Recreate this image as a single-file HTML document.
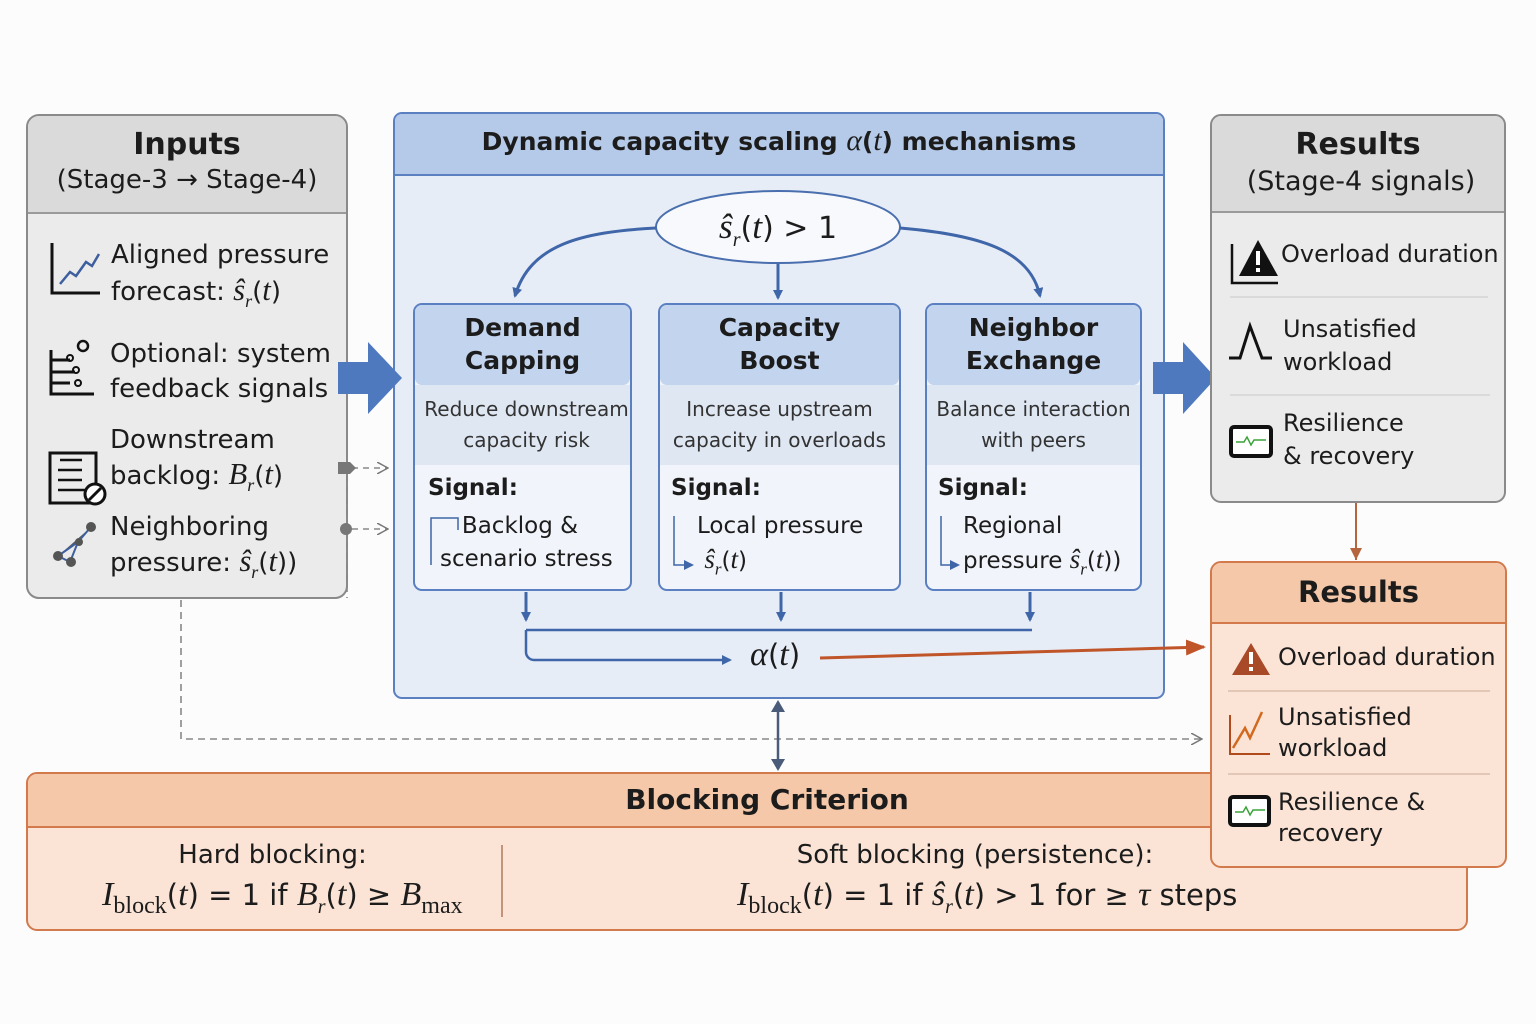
<!DOCTYPE html>
<html><head><meta charset="utf-8"><style>
body{margin:0;width:1536px;height:1024px;background:#fcfcfc;position:relative;overflow:hidden;font-family:"DejaVu Sans","Liberation Sans",sans-serif;color:#1c1c1c}
.a{position:absolute}
.c{text-align:center}
i{font-family:"Liberation Serif",serif;font-style:italic;font-size:1.18em}
</style></head><body>
<svg class="a" style="left:0;top:0" width="1536" height="1024">
<defs>
<marker id="ab" markerWidth="10" markerHeight="10" refX="8" refY="5" orient="auto" markerUnits="userSpaceOnUse"><path d="M0,0 L10,5 L0,10 z" fill="#3f66a8"/></marker>
<marker id="ao" markerWidth="20" markerHeight="20" refX="18" refY="10" orient="auto" markerUnits="userSpaceOnUse"><path d="M0,2 L20,10 L0,18 z" fill="#c0552a"/></marker>
<marker id="ag" markerWidth="12" markerHeight="12" refX="11" refY="6" orient="auto" markerUnits="userSpaceOnUse"><path d="M0,0 L11,6 L0,12" fill="none" stroke="#777" stroke-width="1.5"/></marker>
<marker id="ar" markerWidth="14" markerHeight="12" refX="12" refY="6" orient="auto" markerUnits="userSpaceOnUse"><path d="M0,0 L12,6 L0,12 z" fill="#b5653d"/></marker>
<marker id="ak" markerWidth="12" markerHeight="14" refX="10" refY="7" orient="auto-start-reverse" markerUnits="userSpaceOnUse"><path d="M0,0 L12,7 L0,14 z" fill="#4a5c7a"/></marker>
</defs>
<rect x="27" y="115" width="320" height="483" rx="12" fill="#ebebec" stroke="#8a8a8a" stroke-width="2"/>
<path d="M28,213 V127 a11,11 0 0 1 11,-11 H335 a11,11 0 0 1 11,11 V213z" fill="#dadadb"/>
<line x1="28" y1="213" x2="346" y2="213" stroke="#9a9a9a" stroke-width="2"/>
<rect x="394" y="113" width="770" height="585" rx="8" fill="#e7edf7" stroke="#5b80c2" stroke-width="2"/>
<path d="M395,175 V121 a7,7 0 0 1 7,-7 H1156 a7,7 0 0 1 7,7 V175z" fill="#b5c9e8"/>
<line x1="395" y1="175" x2="1163" y2="175" stroke="#5b80c2" stroke-width="2"/>
<g stroke="#5b80c2" stroke-width="2">
<rect x="414" y="304" width="217" height="286" rx="8" fill="#f1f4fa"/>
<rect x="659" y="304" width="241" height="286" rx="8" fill="#f1f4fa"/>
<rect x="926" y="304" width="215" height="286" rx="8" fill="#f1f4fa"/>
</g>
<g fill="#c3d4ee"><rect x="415" y="305" width="215" height="80" rx="7"/><rect x="660" y="305" width="239" height="80" rx="7"/><rect x="927" y="305" width="213" height="80" rx="7"/></g>
<g fill="#dfe7f3"><rect x="415" y="385" width="215" height="80"/><rect x="660" y="385" width="239" height="80"/><rect x="927" y="385" width="213" height="80"/></g>
<ellipse cx="778" cy="227" rx="122" ry="36" fill="#f8f9fc" stroke="#4a6fae" stroke-width="2"/>
<g stroke="#3f66a8" stroke-width="3" fill="none" marker-end="url(#ab)">
<path d="M656,228 C580,232 530,245 515,296"/>
<path d="M778,264 V298"/>
<path d="M900,228 C980,235 1030,250 1040,296"/>
<path d="M526,592 V620"/><path d="M781,592 V620"/><path d="M1030,592 V620"/>
</g>
<g stroke="#3f66a8" stroke-width="2.5" fill="none">
<path d="M526,630 H1032"/>
<path d="M526,630 V652 a8,8 0 0 0 8,8 H730" marker-end="url(#ab)"/>
</g>
<path d="M338,362 H368 V342 L402,378 L368,414 V394 H338z" fill="#4f79bf"/>
<path d="M1153,362 H1183 V342 L1216,378 L1183,414 V394 H1153z" fill="#4f79bf"/>
<rect x="1211" y="115" width="294" height="387" rx="10" fill="#ebebec" stroke="#8a8a8a" stroke-width="2"/>
<path d="M1212,212 V126 a10,10 0 0 1 10,-10 H1494 a10,10 0 0 1 10,10 V212z" fill="#dadadb"/>
<line x1="1212" y1="212" x2="1504" y2="212" stroke="#9a9a9a" stroke-width="2"/>
<line x1="1230" y1="297" x2="1488" y2="297" stroke="#c8c8c8"/>
<line x1="1230" y1="395" x2="1490" y2="395" stroke="#c8c8c8"/>
<rect x="27" y="773" width="1440" height="157" rx="10" fill="#fbe4d6" stroke="#d27a4c" stroke-width="2"/>
<path d="M28,827 V783 a9,9 0 0 1 9,-9 H1457 a9,9 0 0 1 9,9 V827z" fill="#f5c8a9"/>
<line x1="28" y1="827" x2="1466" y2="827" stroke="#d27a4c" stroke-width="2"/>
<line x1="502" y1="845" x2="502" y2="917" stroke="#b07a5a" stroke-width="1.5"/>
<rect x="1211" y="562" width="295" height="305" rx="10" fill="#fbe4d6" stroke="#d27a4c" stroke-width="2"/>
<path d="M1212,623 V573 a10,10 0 0 1 10,-10 H1495 a10,10 0 0 1 10,10 V623z" fill="#f5c8a9"/>
<line x1="1212" y1="623" x2="1505" y2="623" stroke="#d27a4c" stroke-width="2"/>
<line x1="1228" y1="691" x2="1490" y2="691" stroke="#c9a795"/>
<line x1="1228" y1="774" x2="1490" y2="774" stroke="#c9a795"/>
<path d="M820,658 L1204,647" stroke="#c0552a" stroke-width="3" marker-end="url(#ao)"/>
<path d="M1356,503 V560" stroke="#b5653d" stroke-width="2" marker-end="url(#ar)"/>
<path d="M181,600 V739 H1202" stroke="#888" stroke-width="1.6" stroke-dasharray="7,5" fill="none" marker-end="url(#ag)"/>
<path d="M347,465 V598" stroke="#888" stroke-width="1.6" stroke-dasharray="6,5"/>
<path d="M352,468 H388" stroke="#888" stroke-width="1.6" stroke-dasharray="6,5" marker-end="url(#ag)"/>
<path d="M352,529 H388" stroke="#888" stroke-width="1.6" stroke-dasharray="6,5" marker-end="url(#ag)"/>
<circle cx="346" cy="529" r="6" fill="#777"/><path d="M338,462 h12 l6,6 l-6,6 h-12z" fill="#777"/>
<path d="M778,702 V769" stroke="#4a5c7a" stroke-width="2.5" marker-end="url(#ak)" marker-start="url(#ak)"/>
<g fill="none" stroke="#111" stroke-width="3">
<path d="M52,243 V293 H100"/>
<path d="M60,284 L70,272 L76,276 L86,262 L92,266 L99,254" stroke="#3d5f9e" stroke-width="2.5"/>
<path d="M51,350 V394 H94 M51,360 H70 M51,372 H75 M51,383 H70"/>
<circle cx="83" cy="346" r="5" stroke-width="2.5"/><circle cx="70" cy="358" r="3" stroke-width="2"/><circle cx="76" cy="370" r="3" stroke-width="2"/><circle cx="78" cy="383" r="3" stroke-width="2"/>
<rect x="50" y="453" width="46" height="50"/><path d="M60,460 h22 M58,470 h24 M58,480 h24 M58,490 h28" stroke-width="2.5"/>
<circle cx="95" cy="494" r="10" fill="#fff"/><path d="M89,500 L101,488"/>
</g>
<g fill="#555" stroke="#3d5f9e" stroke-width="2"><path d="M58,556 L78,542 L90,528 M70,562 L58,556 M78,542 L70,562"/></g>
<g fill="#555"><circle cx="91" cy="527" r="5"/><circle cx="79" cy="542" r="4"/><circle cx="58" cy="556" r="5"/><circle cx="71" cy="562" r="5"/></g>
<path d="M1232,244 V283 H1278" fill="none" stroke="#111" stroke-width="2.5"/>
<path d="M1258,240 L1278,276 H1239z" fill="#111"/><rect x="1256" y="251" width="4" height="14" fill="#fff"/><rect x="1256" y="268" width="4" height="4" fill="#fff"/>
<path d="M1229,358 H1240 L1250,326 L1262,358 H1272" fill="none" stroke="#111" stroke-width="3"/>
<rect x="1231" y="427" width="40" height="29" rx="3" fill="#fff" stroke="#111" stroke-width="4"/>
<path d="M1236,442 h8 l3,-5 l4,8 l3,-5 h12" fill="none" stroke="#3aa23a" stroke-width="1.5"/>
<path d="M1251,643 L1270,675 H1232z" fill="#a84a28"/><rect x="1249" y="652" width="4" height="12" fill="#fff"/><rect x="1249" y="667" width="4" height="4" fill="#fff"/>
<path d="M1230,715 V754 H1270" fill="none" stroke="#b24a1c" stroke-width="2"/>
<path d="M1233,748 L1245,728 L1250,738 L1262,712" fill="none" stroke="#d2691e" stroke-width="2.5"/>
<rect x="1230" y="797" width="39" height="28" rx="3" fill="#fff" stroke="#111" stroke-width="4"/>
<path d="M1235,812 h8 l3,-5 l4,8 l3,-5 h12" fill="none" stroke="#3aa23a" stroke-width="1.5"/>
<g fill="none" stroke="#3f66a8" stroke-width="1.5">
<path d="M431,565 V518 H458 V530"/>
<path d="M674,516 V565 H692" marker-end="url(#ab)"/>
<path d="M941,516 V565 H958" marker-end="url(#ab)"/>
</g>
</svg>

<div class="a c" style="left:27px;top:127px;width:320px;font-size:30px;font-weight:bold">Inputs</div>
<div class="a c" style="left:27px;top:165px;width:320px;font-size:26px">(Stage-3 → Stage-4)</div>
<div class="a" style="left:111px;top:238px;font-size:26px;line-height:35px">Aligned pressure<br>forecast: <i>ŝ<sub style="font-size:18px">r</sub></i>(<i>t</i>)</div>
<div class="a" style="left:110px;top:337px;font-size:26px;line-height:35px">Optional: system<br>feedback signals</div>
<div class="a" style="left:110px;top:423px;font-size:26px;line-height:34px">Downstream<br>backlog: <i>B<sub style="font-size:18px">r</sub></i>(<i>t</i>)</div>
<div class="a" style="left:110px;top:510px;font-size:26px;line-height:34px">Neighboring<br>pressure: <i>ŝ<sub style="font-size:18px">r</sub></i>(<i>t</i>))</div>

<div class="a c" style="left:394px;top:125px;width:770px;font-size:25px;font-weight:bold">Dynamic capacity scaling <i style="font-weight:normal">α</i>(<i style="font-weight:normal">t</i>) mechanisms</div>
<div class="a c" style="left:656px;top:205px;width:244px;font-size:30px"><i>ŝ<sub style="font-size:20px">r</sub></i>(<i>t</i>) &gt; 1</div>

<div class="a c" style="left:414px;top:311px;width:217px;font-size:25px;font-weight:bold;line-height:33px">Demand<br>Capping</div>
<div class="a c" style="left:659px;top:311px;width:241px;font-size:25px;font-weight:bold;line-height:33px">Capacity<br>Boost</div>
<div class="a c" style="left:926px;top:311px;width:215px;font-size:25px;font-weight:bold;line-height:33px">Neighbor<br>Exchange</div>
<div class="a c" style="left:414px;top:394px;width:225px;font-size:20px;line-height:31px;color:#333">Reduce downstream<br>capacity risk</div>
<div class="a c" style="left:659px;top:394px;width:241px;font-size:20px;line-height:31px;color:#333">Increase upstream<br>capacity in overloads</div>
<div class="a c" style="left:926px;top:394px;width:215px;font-size:20px;line-height:31px;color:#333">Balance interaction<br>with peers</div>
<div class="a" style="left:428px;top:475px;font-size:23px;font-weight:bold">Signal:</div>
<div class="a" style="left:671px;top:475px;font-size:23px;font-weight:bold">Signal:</div>
<div class="a" style="left:938px;top:475px;font-size:23px;font-weight:bold">Signal:</div>
<div class="a" style="left:440px;top:510px;font-size:23px;line-height:33px">&nbsp;&nbsp;&nbsp;Backlog &amp;<br>scenario stress</div>
<div class="a" style="left:697px;top:510px;font-size:23px;line-height:33px">Local pressure<br>&nbsp;<i>ŝ<sub style="font-size:17px">r</sub></i>(<i>t</i>)</div>
<div class="a" style="left:963px;top:510px;font-size:23px;line-height:33px">Regional<br>pressure <i>ŝ<sub style="font-size:17px">r</sub></i>(<i>t</i>))</div>
<div class="a" style="left:750px;top:636px;font-size:29px"><i>α</i>(<i>t</i>)</div>

<div class="a c" style="left:1211px;top:127px;width:294px;font-size:30px;font-weight:bold">Results</div>
<div class="a c" style="left:1211px;top:166px;width:300px;font-size:27px">(Stage-4 signals)</div>
<div class="a" style="left:1281px;top:240px;font-size:24px">Overload duration</div>
<div class="a" style="left:1283px;top:313px;font-size:24px;line-height:33px">Unsatisfied<br>workload</div>
<div class="a" style="left:1283px;top:407px;font-size:24px;line-height:33px">Resilience<br>&amp; recovery</div>

<div class="a c" style="left:1211px;top:575px;width:295px;font-size:29px;font-weight:bold">Results</div>
<div class="a" style="left:1278px;top:643px;font-size:24px">Overload duration</div>
<div class="a" style="left:1278px;top:702px;font-size:24px;line-height:31px">Unsatisfied<br>workload</div>
<div class="a" style="left:1278px;top:787px;font-size:24px;line-height:31px">Resilience &amp;<br>recovery</div>

<div class="a c" style="left:27px;top:783px;width:1480px;font-size:28px;font-weight:bold">Blocking Criterion</div>
<div class="a c" style="left:100px;top:840px;width:345px;font-size:26px">Hard blocking:</div>
<div class="a" style="left:102px;top:876px;font-size:29px;white-space:nowrap"><i>I</i><span style="font-family:'Liberation Serif',serif;font-size:24px;position:relative;top:8px">block</span>(<i>t</i>) = 1 if <i>B<sub style="font-size:20px">r</sub></i>(<i>t</i>) ≥ <i>B</i><span style="font-family:'Liberation Serif',serif;font-size:24px;position:relative;top:8px">max</span></div>
<div class="a c" style="left:740px;top:840px;width:470px;font-size:26px">Soft blocking (persistence):</div>
<div class="a" style="left:737px;top:876px;font-size:29px;white-space:nowrap"><i>I</i><span style="font-family:'Liberation Serif',serif;font-size:24px;position:relative;top:8px">block</span>(<i>t</i>) = 1 if <i>ŝ<sub style="font-size:20px">r</sub></i>(<i>t</i>) &gt; 1 for ≥ <i>τ</i> steps</div>
</body></html>
